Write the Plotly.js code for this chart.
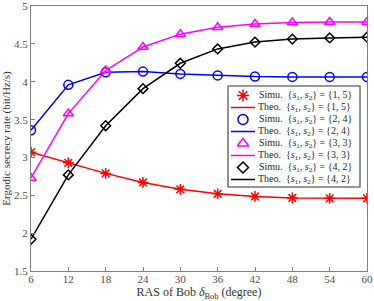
<!DOCTYPE html>
<html><head><meta charset="utf-8">
<script src="https://cdn.plot.ly/plotly-3.0.1.min.js"></script>
<style>body{margin:0;padding:0;background:#fff}#chart{width:374px;height:301px}</style>
</head><body><div id="chart"></div>
<script>
const delta = [6, 12, 18, 24, 30, 36, 42, 48, 54, 60];
const yTicks = [1.5, 2, 2.5, 3, 3.5, 4, 4.5, 5];
const s15 = [3.07, 2.93, 2.79, 2.67, 2.58, 2.52, 2.485, 2.465, 2.46, 2.46];
const s24 = [3.36, 3.96, 4.125, 4.135, 4.105, 4.085, 4.07, 4.065, 4.065, 4.065];
const s33 = [2.73, 3.58, 4.15, 4.46, 4.63, 4.72, 4.765, 4.785, 4.79, 4.79];
const s42 = [1.92, 2.77, 3.42, 3.91, 4.245, 4.435, 4.525, 4.565, 4.58, 4.59];
const labels = ["{1, 5}", "{2, 4}", "{3, 3}", "{4, 2}"];
const colors = ["#ff0000", "#0000ff", "#ff00ff", "#000000"];
const symbols = ["asterisk-open", "circle-open", "triangle-up-open", "diamond-open"];
const msizes = [9, 9, 9, 7.5];
const series = [s15, s24, s33, s42];
const pre = "{<i>s</i><sub>1</sub>, <i>s</i><sub>2</sub>} = ";

const traces = [];
series.forEach((ys, i) => {
  traces.push({x: delta, y: ys, mode: "lines", line: {color: colors[i], width: 1.5},
    showlegend: false, hoverinfo: "skip"});
  traces.push({x: delta, y: ys, mode: "markers",
    marker: {symbol: symbols[i], size: msizes[i], color: colors[i], line: {width: 1.5, color: colors[i]}},
    showlegend: false});
});

// custom legend drawn in pixel-like coordinates on an overlay axis pair
const PX0 = 31, PX1 = 367, PY0 = 6, PY1 = 271;
const LX0 = 228, LX1 = 360, LY0 = 86, LY1 = 187, ROW0 = 95.5, STEP = 12;
traces.push({x: [LX0, LX1, LX1, LX0, LX0], y: [LY0, LY0, LY1, LY1, LY0], xaxis: "x2", yaxis: "y2",
  mode: "lines", line: {color: "#777777", width: 1.1}, showlegend: false, hoverinfo: "skip", cliponaxis: false});
const annotations = [];
series.forEach((ys, i) => {
  const ySim = ROW0 + STEP * 2 * i, yTheo = ySim + STEP;
  traces.push({x: [243], y: [ySim], xaxis: "x2", yaxis: "y2", mode: "markers",
    marker: {symbol: symbols[i], size: msizes[i] + 1, color: colors[i], line: {width: 1.5, color: colors[i]}},
    showlegend: false, hoverinfo: "skip", cliponaxis: false});
  traces.push({x: [231, 255], y: [yTheo, yTheo], xaxis: "x2", yaxis: "y2", mode: "lines",
    line: {color: colors[i], width: 1.5}, showlegend: false, hoverinfo: "skip"});
  annotations.push({x: 257, y: ySim, xref: "x2", yref: "y2", xanchor: "left", yanchor: "middle",
    showarrow: false, text: "Simu.&nbsp; " + pre + labels[i], font: {size: 10, color: "#262626"}});
  annotations.push({x: 256, y: yTheo, xref: "x2", yref: "y2", xanchor: "left", yanchor: "middle",
    showarrow: false, text: "Theo.&nbsp; " + pre + labels[i], font: {size: 10, color: "#262626"}});
});

const axis = {showline: true, mirror: true, linecolor: "#7f7f7f", linewidth: 1, ticks: "inside", ticklen: 4,
  tickcolor: "#7f7f7f", showgrid: false, zeroline: false, tickfont: {size: 11, color: "#4d4d4d"}};
const layout = {
  width: 374, height: 301,
  margin: {l: 31, r: 7, t: 6, b: 30},
  font: {family: "Liberation Serif, Times New Roman, serif", color: "#333"},
  paper_bgcolor: "#fff", plot_bgcolor: "rgba(0,0,0,0)",
  showlegend: false,
  xaxis: Object.assign({}, axis, {range: [6, 60], tickvals: delta, ticklabelstandoff: -2,
    title: {text: "RAS of Bob <i>δ</i><sub>Bob</sub> (degree)", font: {size: 12, color: "#333"}, standoff: 5}}),
  yaxis: Object.assign({}, axis, {range: [1.5, 5.002], tickmode: "array", tickvals: yTicks,
    ticktext: yTicks.map(String), ticklabeloverflow: "allow",
    title: {text: "Ergodic secrecy rate (bit/Hz/s)", font: {size: 11, color: "#333"}, standoff: 4}}),
  xaxis2: {overlaying: "x", anchor: "y2", range: [PX0, PX1], visible: false, fixedrange: true},
  yaxis2: {overlaying: "y", anchor: "x2", range: [PY1, PY0], visible: false, fixedrange: true},
  shapes: [{type: "rect", xref: "paper", yref: "paper", layer: "below",
    x0: (LX0 - PX0) / (PX1 - PX0), x1: (LX1 - PX0) / (PX1 - PX0),
    y0: (PY1 - LY1) / (PY1 - PY0), y1: (PY1 - LY0) / (PY1 - PY0),
    fillcolor: "#ffffff", line: {color: "#777777", width: 1.1}}],
  annotations: annotations
};
Plotly.newPlot("chart", traces, layout, {displayModeBar: false, staticPlot: true});
</script></body></html>
